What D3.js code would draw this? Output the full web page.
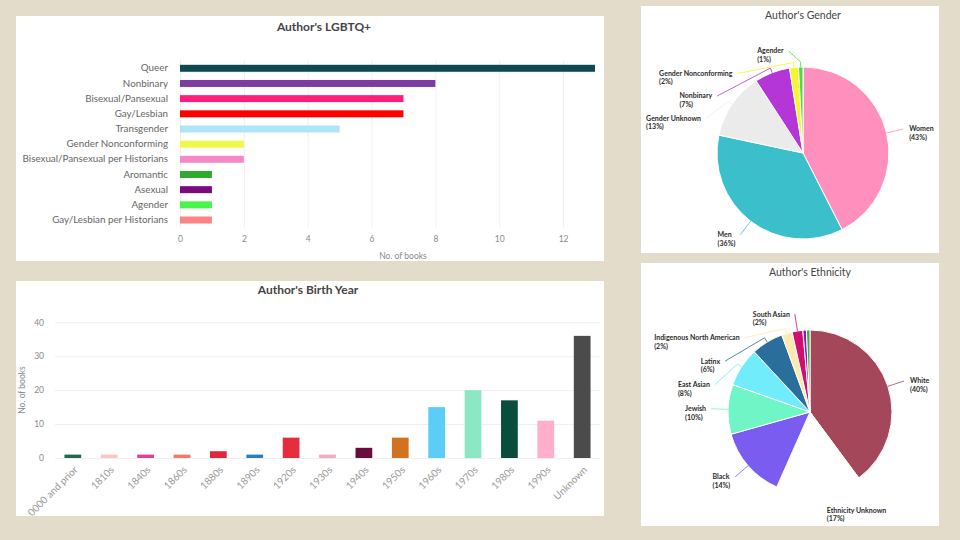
<!DOCTYPE html>
<html>
<head>
<meta charset="utf-8">
<style>
    body { margin: 0; background: #e3dccb; }
    svg { display: block; font-family: Lato, "Noto Sans", sans-serif; }
</style>
</head>
<body>
<div id="vis"></div>
<script src="https://d3js.org/d3.v7.min.js"></script>
<script>
    // ---- data ----
    const lgbtqCats = ["Queer", "Nonbinary", "Bisexual/Pansexual", "Gay/Lesbian", "Transgender",
        "Gender Nonconforming", "Bisexual/Pansexual per Historians", "Aromantic", "Asexual",
        "Agender", "Gay/Lesbian per Historians"];
    const lgbtqValues = [13, 8, 7, 7, 5, 2, 2, 1, 1, 1, 1];
    const lgbtqColors = ["#0b4a4f", "#7e3ca0", "#ff1f7a", "#ff0000", "#aee6f8", "#eefa4a",
        "#f589c8", "#2eaa2c", "#7a0a7d", "#49f54a", "#fa8583"];
    const lgbtqTicks = [0, 2, 4, 6, 8, 10, 12];

    const birthCats = ["0000 and prior", "1810s", "1840s", "1860s", "1880s", "1890s", "1920s",
        "1930s", "1940s", "1950s", "1960s", "1970s", "1980s", "1990s", "Unknown"];
    const birthValues = [1, 1, 1, 1, 2, 1, 6, 1, 3, 6, 15, 20, 17, 11, 36];
    const birthColors = ["#1e6b4e", "#ffc4c4", "#e0409a", "#f07a6e", "#e0283a", "#2a7fc4", "#e52d3d",
        "#f6a8c0", "#6b0a3d", "#d2711e", "#5ccdf9", "#8ce8c4", "#0a4d3c", "#ffafc9", "#4b4b4b"];
    const birthTicks = [0, 10, 20, 30, 40];

    const genderCats = ["Women", "Men", "Gender Unknown", "Nonbinary", "Gender Nonconforming", "Agender"];
    const genderValues = [51, 43, 15, 8, 2, 1];
    const genderColors = ["#ff8fbd", "#3bbfcb", "#ebebeb", "#b536d6", "#f6f629", "#4cdd3b"];

    const ethCats = ["White", "Ethnicity Unknown", "Black", "Jewish", "East Asian", "Latinx",
        "Indigenous North American", "South Asian", "Other A", "Other B"];
    const ethValues = [57, 24, 20, 14, 11, 9, 3, 3, 1, 1];
    const ethColors = ["#a5475a", "#ffffff", "#7b5cf0", "#6ff5c6", "#70ecfb", "#2a6f9c",
        "#fcebb0", "#d10f6c", "#8a19c0", "#3cb043"];

    let svg = d3.select("#vis").append("svg")
        .attr("width", 960)
        .attr("height", 540);

    svg.append("rect").attr("width", 960).attr("height", 540).attr("fill", "#e3dccb");

    // white cards
    function card(x, y, w, h) {
        svg.append("rect").attr("x", x).attr("y", y).attr("width", w).attr("height", h).attr("fill", "#fff");
    }
    card(16, 16, 588, 245);
    card(16, 281, 588, 235);
    card(641, 6, 298, 247);
    card(641, 263, 298, 263);

    // ---- Author's LGBTQ+ ----
    let x1 = d3.scaleLinear().domain([0, 13]).range([180, 595]);
    let y1 = d3.scaleBand().domain(lgbtqCats).range([60.7, 227.6]).paddingInner(0.54).paddingOuter(0.27);

    svg.append("text")
        .attr("x", 324).attr("y", 31)
        .attr("text-anchor", "middle")
        .style("font-size", "12px").style("font-weight", "bold").style("fill", "#444")
        .text("Author's LGBTQ+");

    let gx1 = svg.append("g")
        .attr("transform", "translate(0,227)")
        .call(d3.axisBottom(x1).tickValues(lgbtqTicks).tickSize(-167).tickPadding(9));
    gx1.select(".domain").remove();
    gx1.selectAll("line").attr("stroke", "#efefef");
    gx1.selectAll("text").style("fill", "#8a8a8a").style("font-size", "8.5px").style("font-family", "Lato");

    let gy1 = svg.append("g")
        .attr("transform", "translate(180,0)")
        .call(d3.axisLeft(y1).tickSize(0).tickPadding(12));
    gy1.select(".domain").remove();
    gy1.selectAll("text").style("fill", "#666").style("font-size", "9.8px").style("font-family", "Lato");

    svg.append("g").selectAll("rect")
        .data(lgbtqCats)
        .enter().append("rect")
        .attr("x", x1(0))
        .attr("y", d => y1(d))
        .attr("width", (d, i) => x1(lgbtqValues[i]) - x1(0))
        .attr("height", y1.bandwidth())
        .attr("fill", (d, i) => lgbtqColors[i]);

    svg.append("text")
        .attr("x", 403).attr("y", 259)
        .attr("text-anchor", "middle")
        .style("font-size", "8.5px").style("fill", "#8a8a8a")
        .text("No. of books");

    // ---- Author's Birth Year ----
    let x2 = d3.scaleBand().domain(birthCats).range([55, 600]).paddingInner(0.54).paddingOuter(0.26);
    let y2 = d3.scaleLinear().domain([0, 40]).range([458, 322.3]);

    svg.append("text")
        .attr("x", 308).attr("y", 294)
        .attr("text-anchor", "middle")
        .style("font-size", "12px").style("font-weight", "bold").style("fill", "#444")
        .text("Author's Birth Year");

    let gy2 = svg.append("g")
        .attr("transform", "translate(55,0)")
        .call(d3.axisLeft(y2).tickValues(birthTicks).tickSize(-545).tickPadding(11));
    gy2.select(".domain").remove();
    gy2.selectAll("line").attr("stroke", "#efefef");
    gy2.selectAll("text").style("fill", "#8a8a8a").style("font-size", "8.5px").style("font-family", "Lato");

    svg.append("g").selectAll("rect")
        .data(birthCats)
        .enter().append("rect")
        .attr("x", d => x2(d))
        .attr("y", (d, i) => y2(birthValues[i]))
        .attr("width", x2.bandwidth())
        .attr("height", (d, i) => y2(0) - y2(birthValues[i]))
        .attr("fill", (d, i) => birthColors[i]);

    let gx2 = svg.append("g")
        .attr("transform", "translate(0,458)")
        .call(d3.axisBottom(x2).tickSize(0));
    gx2.select(".domain").remove();
    gx2.selectAll("text")
        .attr("x", 0).attr("y", 0).attr("dy", "0.35em")
        .attr("text-anchor", "end")
        .attr("transform", "translate(3,10) rotate(-45)")
        .style("fill", "#999").style("font-size", "10px").style("font-family", "Lato");

    svg.append("text")
        .attr("transform", "translate(25,390) rotate(-90)")
        .attr("text-anchor", "middle")
        .style("font-size", "8.5px").style("fill", "#8a8a8a")
        .text("No. of books");

    // ---- pies ----
    function drawPie(cx, cy, r, cats, vals, cols, spacing, title, titleY) {
        let total = d3.sum(vals);
        let data = cats.map((c, i) => ({name: c, v: vals[i], color: cols[i]}));
        let arcs = d3.pie().sort(null).value(d => d.v)(data);
        let arc = d3.arc().innerRadius(0).outerRadius(r);

        svg.append("text")
            .attr("x", cx).attr("y", titleY)
            .attr("text-anchor", "middle")
            .style("font-size", "10.5px").style("fill", "#444")
            .text(title);

        let g = svg.append("g").attr("transform", "translate(" + cx + "," + cy + ")");
        g.selectAll("path")
            .data(arcs)
            .enter().append("path")
            .attr("d", arc)
            .attr("fill", d => d.data.color)
            .attr("stroke", "#fff")
            .attr("stroke-width", 1);

        // label placement: push labels apart on each side
        let R = r + 17;
        let top = -r - 16;
        let labels = arcs.filter(a => a.data.v / total >= 0.008).map(a => {
            let mid = (a.startAngle + a.endAngle) / 2;
            return {a: a, mid: mid, side: Math.sin(mid) >= 0 ? 1 : -1, y: -R * Math.cos(mid)};
        });
        [1, -1].forEach(side => {
            let prev = -Infinity;
            labels.filter(l => l.side === side)
                .sort((p, q) => p.y - q.y)
                .forEach(l => {
                    l.y = Math.max(l.y, top, prev + spacing);
                    prev = l.y;
                    l.x = side * Math.sqrt(Math.max(R * R - l.y * l.y, 0));
                });
        });

        labels.forEach(l => {
            let s = Math.sin(l.mid), c = Math.cos(l.mid);
            g.append("polyline")
                .attr("points", [[r * s, -r * c], [(r + 5) * s, -(r + 5) * c], [l.x, l.y]].map(p => p.join(",")).join(" "))
                .attr("fill", "none")
                .attr("stroke", l.a.data.color)
                .attr("stroke-width", 0.8);

            let t = g.append("text")
                .style("font-size", "7px").style("font-weight", "bold").style("fill", "#2b2b2b");
            let pct = Math.round(l.a.data.v / total * 100);
            let t1 = t.append("tspan").attr("y", l.y).attr("dy", "0.35em").text(l.a.data.name);
            let t2 = t.append("tspan").attr("y", l.y + 8.5).attr("dy", "0.35em").text("(" + pct + "%)");
            let tx;
            if (l.side === 1) {
                tx = l.x + 6;
            } else {
                let w = Math.max(t1.node().getComputedTextLength(), t2.node().getComputedTextLength());
                tx = l.x - 5 - w;
            }
            t1.attr("x", tx);
            t2.attr("x", tx);
        });
    }

    drawPie(803, 153, 86, genderCats, genderValues, genderColors, 22.5, "Author's Gender", 19);
    drawPie(810, 412, 82, ethCats, ethValues, ethColors, 23.5, "Author's Ethnicity", 276);
</script>
</body>
</html>
